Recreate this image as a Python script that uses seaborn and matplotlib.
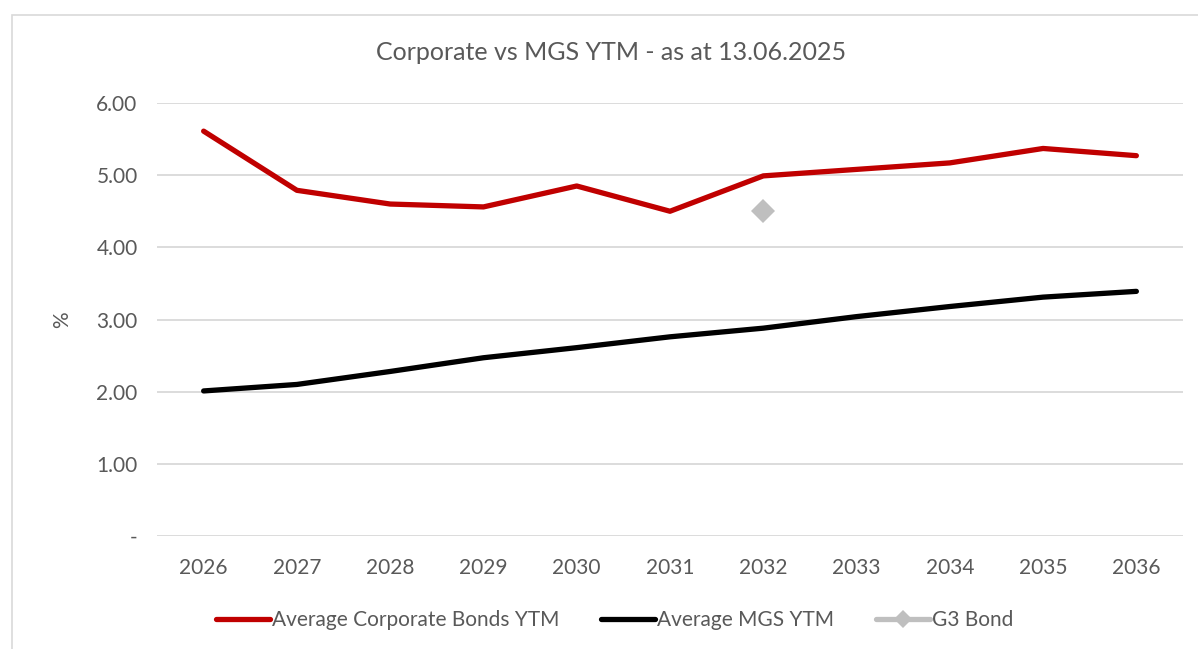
import matplotlib
matplotlib.use('Agg')
import matplotlib.pyplot as plt
import seaborn as sns
import pandas as pd
from matplotlib.patches import Rectangle

# values
years = [2026, 2027, 2028, 2029, 2030, 2031, 2032, 2033, 2034, 2035, 2036]
corporate_ytm = [5.61, 4.79, 4.60, 4.56, 4.85, 4.50, 4.99, 5.08, 5.17, 5.37, 5.27]
mgs_ytm = [2.01, 2.10, 2.28, 2.47, 2.61, 2.76, 2.88, 3.04, 3.18, 3.31, 3.39]
g3_year = [2032]
g3_ytm = [4.50]
y_ticks = [0, 1, 2, 3, 4, 5, 6]
y_tick_labels = ['-', '1.00', '2.00', '3.00', '4.00', '5.00', '6.00']

sns.set_theme(style='white')
plt.rcParams['font.family'] = ['Lato', 'DejaVu Sans']

text_grey = '#595959'
grid_grey = '#D9D9D9'

df = pd.DataFrame({'year': years, 'corp': corporate_ytm, 'mgs': mgs_ytm})
g3 = pd.DataFrame({'year': g3_year, 'ytm': g3_ytm})

fig = plt.figure(figsize=(11.98, 6.49), dpi=100)
ax = fig.add_axes([157 / 1198, 1 - 536 / 649, 1026 / 1198, 433 / 649])

# outer chart border
fig.patches.append(Rectangle((12 / 1198, -0.01), 1.02, 1 - 15 / 649 + 0.01,
                             transform=fig.transFigure, fill=False,
                             edgecolor='#D9D9D9', linewidth=1.2))

sns.lineplot(data=df, x='year', y='corp', ax=ax, color='#C00000', linewidth=3.8,
             label='Average Corporate Bonds YTM', solid_capstyle='round')
sns.lineplot(data=df, x='year', y='mgs', ax=ax, color='black', linewidth=3.8,
             label='Average MGS YTM', solid_capstyle='round')
sns.lineplot(data=g3, x='year', y='ytm', ax=ax, color='#BFBFBF', linewidth=3.8,
             marker='D', markersize=12, markeredgewidth=0, label='G3 Bond')

ax.set_xlim(2025.5, 2036.5)
ax.set_ylim(0, 6)
ax.set_xticks(years)
ax.set_xticklabels([str(y) for y in years])
ax.set_yticks(y_ticks)
ax.set_yticklabels(y_tick_labels)
ax.tick_params(axis='both', colors=text_grey, labelsize=15, length=0)
ax.tick_params(axis='x', pad=16)
ax.tick_params(axis='y', pad=14)
ax.yaxis.grid(True, color=grid_grey, linewidth=1.3)
ax.set_axisbelow(True)
for s in ax.spines.values():
    s.set_visible(False)

ax.set_xlabel('')
ax.set_ylabel('%', color=text_grey, fontsize=15)
ax.yaxis.set_label_coords(-0.083, 0.5)

fig.text(611 / 1198, 1 - 53 / 649, 'Corporate vs MGS YTM - as at 13.06.2025',
         ha='center', va='center', color=text_grey, fontsize=18)

leg = ax.legend(loc='center', bbox_to_anchor=(0.446, -0.195), ncol=3, frameon=False,
                fontsize=15, handlelength=2.6, handletextpad=0.1, columnspacing=2.0)
for t in leg.get_texts():
    t.set_color(text_grey)
for h in leg.legend_handles:
    h.set_markersize(9)

fig.savefig('out.png', dpi=100, facecolor='white')
